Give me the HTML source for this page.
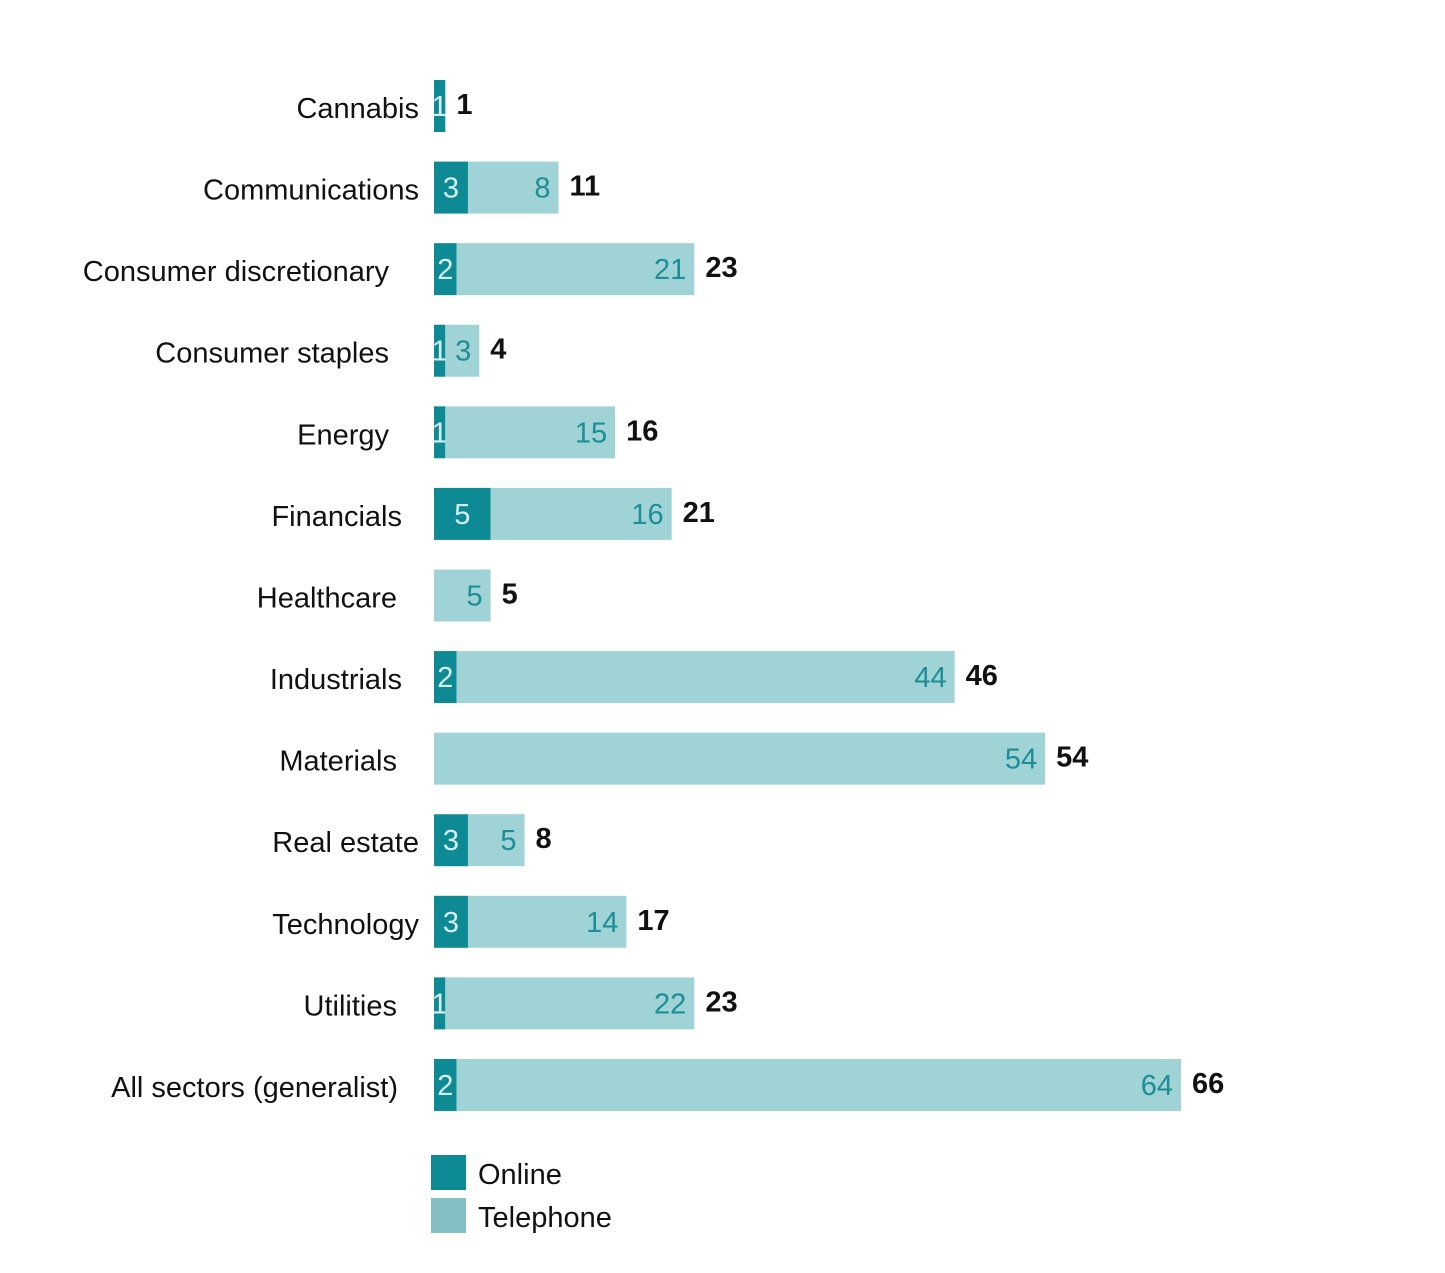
<!DOCTYPE html>
<html><head><meta charset="utf-8"><style>
body{margin:0;background:#fff;}
svg text{font-family:"Liberation Sans",sans-serif;}
</style></head><body>
<svg width="1445" height="1268" xmlns="http://www.w3.org/2000/svg" id="chart">
<g id="bars"></g>
<g>
<rect x="431" y="1155" width="35" height="35" fill="#0e8a94"/>
<text x="478" y="1184" font-size="29" fill="#111">Online</text>
<rect x="431" y="1198" width="35" height="35" fill="#84bfc4"/>
<text x="478" y="1227" font-size="29" fill="#111">Telephone</text>
</g>
</svg>
<script>
const categories=["Cannabis","Communications","Consumer discretionary","Consumer staples","Energy","Financials","Healthcare","Industrials","Materials","Real estate","Technology","Utilities","All sectors (generalist)"];
const online=[1,3,2,1,1,5,0,2,0,3,3,1,2];
const telephone=[0,8,21,3,15,16,5,44,54,5,14,22,64];
const labelRight=[419,419,389,389,389,402,397,402,397,419,419,397,398];
const NS="http://www.w3.org/2000/svg";
const x0=434, unit=747/66, y0=80, step=81.58, bh=52;
const xs=v=>v*unit;
const g=document.getElementById('bars');
function mk(t,a){const e=document.createElementNS(NS,t);for(const k in a)e.setAttribute(k,a[k]);return e;}
categories.forEach((c,i)=>{
  const y=y0+i*step, cy=y+bh/2+10;
  const t=mk('text',{x:labelRight[i],y:cy+2,'font-size':29,'text-anchor':'end',fill:'#111'});
  
  
  t.textContent=c;g.appendChild(t);
  const wo=xs(online[i]), wt=xs(telephone[i]);
  if(online[i]>0){
    const r=mk('rect',{x:x0,y:y,width:wo,height:bh,fill:'#0e8a94'});
    
    
    g.appendChild(r);
    const v=mk('text',{x:x0+wo/2,y:cy,'font-size':29,'text-anchor':'middle',fill:'#d6eef0'});
    
    
    v.textContent=online[i];g.appendChild(v);
  }
  if(telephone[i]>0){
    const r=mk('rect',{x:x0+wo,y:y,width:wt,height:bh,fill:'#9fd3d6'});
    
    
    g.appendChild(r);
    const v=mk('text',{x:x0+wo+wt-8,y:cy,'font-size':29,'text-anchor':'end',fill:'#1d8d96'});
    
    
    v.textContent=telephone[i];g.appendChild(v);
  }
  const tot=online[i]+telephone[i];
  const tt=mk('text',{x:x0+xs(tot)+11,y:cy-2,'font-size':29,'font-weight':'bold',fill:'#111'});
  
  
  tt.textContent=tot;g.appendChild(tt);
});
</script>
</body></html>
